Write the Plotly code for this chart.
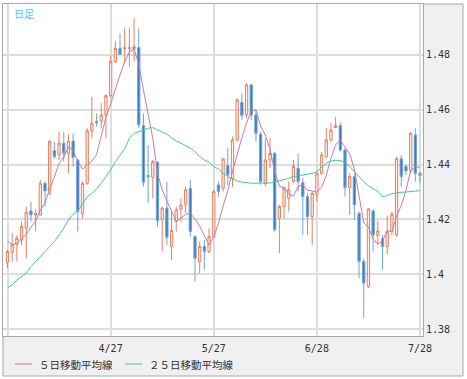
import pandas as pd
import plotly.graph_objects as go

dates = [d.strftime("%-m/%-d") for d in pd.bdate_range("2011-03-28", "2011-07-28")]

opens = [1.4043, 1.4080, 1.4109, 1.4125, 1.4168, 1.4231, 1.4216, 1.4216, 1.4332, 1.4295,
         1.4451, 1.4435, 1.4478, 1.4441, 1.4486, 1.4417, 1.4222, 1.4332, 1.4523, 1.4557,
         1.4559, 1.4581, 1.4652, 1.4776, 1.4824, 1.4823, 1.4823, 1.4824, 1.4827, 1.4542,
         1.4360, 1.4353, 1.4409, 1.4198, 1.4241, 1.4101, 1.4192, 1.4238, 1.4253, 1.4314,
         1.4137, 1.4046, 1.4101, 1.4083, 1.4137, 1.4326, 1.4314, 1.4396, 1.4350, 1.4490,
         1.4627, 1.4581, 1.4691, 1.4581, 1.4511, 1.4332, 1.4417, 1.4441, 1.4204, 1.4247,
         1.4277, 1.4338, 1.4387, 1.4334, 1.4283, 1.4210, 1.4289, 1.4368, 1.4429, 1.4490,
         1.4535, 1.4542, 1.4453, 1.4316, 1.4356, 1.4222, 1.4046, 1.3955, 1.4231, 1.4141,
         1.4129, 1.4101, 1.4156, 1.4143, 1.4421, 1.4393, 1.4377, 1.4508, 1.4368]
highs = [1.4089, 1.4150, 1.4143, 1.4192, 1.4247, 1.4265, 1.4235, 1.4344, 1.4338, 1.4490,
         1.4484, 1.4520, 1.4520, 1.4511, 1.4514, 1.4421, 1.4338, 1.4533, 1.4648, 1.4587,
         1.4624, 1.4657, 1.4798, 1.4851, 1.4879, 1.4900, 1.4897, 1.4934, 1.4897, 1.4587,
         1.4472, 1.4417, 1.4411, 1.4247, 1.4338, 1.4230, 1.4247, 1.4277, 1.4320, 1.4344,
         1.4143, 1.4119, 1.4125, 1.4168, 1.4308, 1.4338, 1.4423, 1.4460, 1.4502, 1.4642,
         1.4660, 1.4697, 1.4693, 1.4599, 1.4520, 1.4496, 1.4496, 1.4447, 1.4253, 1.4320,
         1.4338, 1.4417, 1.4441, 1.4350, 1.4295, 1.4302, 1.4374, 1.4447, 1.4533, 1.4551,
         1.4575, 1.4554, 1.4460, 1.4368, 1.4368, 1.4229, 1.4058, 1.4241, 1.4235, 1.4195,
         1.4143, 1.4214, 1.4229, 1.4429, 1.4435, 1.4399, 1.4520, 1.4533, 1.4374]
lows = [1.4022, 1.4046, 1.4046, 1.4107, 1.4058, 1.4192, 1.4156, 1.4214, 1.4247, 1.4289,
        1.4423, 1.4417, 1.4411, 1.4368, 1.4393, 1.4156, 1.4204, 1.4326, 1.4496, 1.4539,
        1.4533, 1.4496, 1.4644, 1.4770, 1.4800, 1.4770, 1.4757, 1.4776, 1.4533, 1.4320,
        1.4259, 1.4277, 1.4174, 1.4083, 1.4107, 1.4052, 1.4156, 1.4192, 1.4222, 1.4137,
        1.3973, 1.4004, 1.4016, 1.4077, 1.4131, 1.4283, 1.4302, 1.4326, 1.4320, 1.4484,
        1.4563, 1.4569, 1.4563, 1.4484, 1.4326, 1.4320, 1.4387, 1.4156, 1.4077, 1.4204,
        1.4229, 1.4332, 1.4302, 1.4143, 1.4143, 1.4107, 1.4265, 1.4362, 1.4423, 1.4484,
        1.4533, 1.4447, 1.4283, 1.4216, 1.4198, 1.3985, 1.3840, 1.3949, 1.4083, 1.4107,
        1.4016, 1.4071, 1.4143, 1.4137, 1.4320, 1.4362, 1.4368, 1.4338, 1.4332]
closes = [1.4083, 1.4109, 1.4131, 1.4174, 1.4226, 1.4216, 1.4222, 1.4332, 1.4304, 1.4484,
          1.4429, 1.4478, 1.4441, 1.4486, 1.4426, 1.4229, 1.4332, 1.4523, 1.4551, 1.4552,
          1.4581, 1.4652, 1.4776, 1.4824, 1.4802, 1.4826, 1.4826, 1.4830, 1.4545, 1.4336,
          1.4355, 1.4411, 1.4195, 1.4241, 1.4135, 1.4160, 1.4235, 1.4253, 1.4308, 1.4156,
          1.4058, 1.4101, 1.4083, 1.4137, 1.4302, 1.4302, 1.4421, 1.4362, 1.4490, 1.4636,
          1.4579, 1.4691, 1.4581, 1.4514, 1.4338, 1.4417, 1.4441, 1.4162, 1.4247, 1.4314,
          1.4308, 1.4393, 1.4338, 1.4283, 1.4210, 1.4295, 1.4368, 1.4435, 1.4490, 1.4526,
          1.4542, 1.4453, 1.4316, 1.4356, 1.4253, 1.4046, 1.3967, 1.4238, 1.4143, 1.4158,
          1.4101, 1.4156, 1.4220, 1.4421, 1.4356, 1.4377, 1.4514, 1.4368, 1.4360]

ma5 = [1.4120, 1.4108, 1.4112, 1.4128, 1.4145, 1.4171, 1.4194, 1.4234, 1.4260, 1.4312,
       1.4354, 1.4405, 1.4427, 1.4464, 1.4452, 1.4412, 1.4383, 1.4399, 1.4412, 1.4437,
       1.4508, 1.4572, 1.4622, 1.4677, 1.4727, 1.4776, 1.4811, 1.4822, 1.4766, 1.4673,
       1.4578, 1.4495, 1.4368, 1.4308, 1.4267, 1.4228, 1.4193, 1.4205, 1.4218, 1.4222,
       1.4202, 1.4175, 1.4141, 1.4107, 1.4136, 1.4185, 1.4249, 1.4305, 1.4375, 1.4442,
       1.4498, 1.4552, 1.4595, 1.4600, 1.4541, 1.4508, 1.4458, 1.4374, 1.4321, 1.4316,
       1.4294, 1.4285, 1.4320, 1.4327, 1.4306, 1.4304, 1.4299, 1.4318, 1.4360, 1.4423,
       1.4472, 1.4489, 1.4465, 1.4439, 1.4384, 1.4285, 1.4188, 1.4172, 1.4129, 1.4110,
       1.4121, 1.4159, 1.4156, 1.4211, 1.4251, 1.4306, 1.4378, 1.4392, 1.4390]

ma25 = [1.3951, 1.3961, 1.3979, 1.3991, 1.4004, 1.4028, 1.4046, 1.4064, 1.4080, 1.4101,
        1.4119, 1.4143, 1.4168, 1.4198, 1.4219, 1.4231, 1.4255, 1.4283, 1.4295, 1.4311,
        1.4332, 1.4356, 1.4381, 1.4411, 1.4435, 1.4457, 1.4496, 1.4514, 1.4520, 1.4526,
        1.4533, 1.4535, 1.4526, 1.4520, 1.4511, 1.4498, 1.4486, 1.4478, 1.4469, 1.4460,
        1.4447, 1.4429, 1.4417, 1.4409, 1.4393, 1.4384, 1.4368, 1.4356, 1.4348, 1.4340,
        1.4336, 1.4333, 1.4332, 1.4332, 1.4332, 1.4332, 1.4333, 1.4336, 1.4340, 1.4345,
        1.4350, 1.4356, 1.4360, 1.4362, 1.4365, 1.4368, 1.4374, 1.4389, 1.4405, 1.4413,
        1.4416, 1.4415, 1.4409, 1.4393, 1.4374, 1.4356, 1.4338, 1.4323, 1.4311, 1.4302,
        1.4283, 1.4287, 1.4294, 1.4297, 1.4299, 1.4300, 1.4302, 1.4304, 1.4305]

series_names = ["５日移動平均線", "２５日移動平均線"]
series_colors = ["#C77CA2", "#4CC68C"]
x_tick_dates = ["3/28", "4/27", "5/27", "6/28", "7/28"]
x_tick_text = ["", "4/27", "5/27", "6/28", "7/28"]
y_tick_vals = [1.38, 1.40, 1.42, 1.44, 1.46, 1.48]
y_tick_text = ["1.38", "1.4", "1.42", "1.44", "1.46", "1.48"]

fig = go.Figure()
fig.add_trace(go.Candlestick(
    x=dates, open=opens, high=highs, low=lows, close=closes,
    increasing=dict(line=dict(color="#E5805F", width=1), fillcolor="#FBEFEA"),
    decreasing=dict(line=dict(color="#6FA4D6", width=1), fillcolor="#3A7BBE"),
    showlegend=False, hoverinfo="skip",
))
for vals, name, color in zip([ma5, ma25], series_names, series_colors):
    fig.add_trace(go.Scatter(x=dates, y=vals, mode="lines", name=name, showlegend=False,
                             line=dict(color=color, width=1), hoverinfo="skip"))

# pixel helpers for the plot area (x: 3..423, y: 4..336)
def px(xp):
    return (xp - 3) / 420

def py(yp):
    return (336 - yp) / 332

shapes = [
    dict(type="rect", xref="paper", yref="paper", x0=0, x1=px(463),
         y0=py(376), y1=1, fillcolor="#F0F0F0",
         line=dict(color="#A8A8A8", width=1), layer="below"),
    dict(type="rect", xref="paper", yref="paper", x0=0, x1=1, y0=0, y1=1,
         fillcolor="white", line=dict(width=0), layer="below"),
]
annotations = [
    dict(text="日足", xref="paper", yref="paper", x=px(12), y=py(13),
         xanchor="left", yanchor="middle", showarrow=False,
         font=dict(family="Noto Sans CJK JP", size=10, color="#4FC3F2")),
]
legend_line_x = [(15, 32), (125, 142)]
legend_text_x = [37, 147]
for (lx0, lx1), tx, name, color in zip(legend_line_x, legend_text_x, series_names, series_colors):
    shapes.append(dict(type="line", xref="paper", yref="paper", x0=px(lx0), x1=px(lx1),
                       y0=py(364), y1=py(364), line=dict(color=color, width=1)))
    annotations.append(dict(text=name, xref="paper", yref="paper", x=px(tx), y=py(364),
                            xanchor="left", yanchor="middle", showarrow=False,
                            font=dict(family="Noto Sans CJK JP", size=10.5, color="#333333")))

fig.update_layout(
    width=467, height=379,
    margin=dict(l=3, r=44, t=4, b=43),
    paper_bgcolor="white", plot_bgcolor="white",
    font=dict(family="DejaVu Sans Mono", size=10, color="#333333"),
    shapes=shapes, annotations=annotations,
    showlegend=False,
    xaxis=dict(type="category", range=[-0.96, 88.64], rangeslider=dict(visible=False),
               tickmode="array", tickvals=x_tick_dates, ticktext=x_tick_text,
               showgrid=True, gridcolor="#DDDDDD", gridwidth=1.5,
               showline=True, linecolor="#A8A8A8", linewidth=1, mirror=True,
               ticks="", ticklabelstandoff=3, zeroline=False, fixedrange=True),
    yaxis=dict(side="right", range=[1.37745, 1.49861], tickmode="array",
               tickvals=y_tick_vals, ticktext=y_tick_text,
               showgrid=True, gridcolor="#DDDDDD", gridwidth=1.5,
               showline=True, linecolor="#A8A8A8", linewidth=1, mirror=True,
               ticks="", zeroline=False, fixedrange=True),
)

fig.write_html("out.html", config={"displayModeBar": False},
               post_script="document.body.style.margin='0';document.body.style.overflow='hidden';")
